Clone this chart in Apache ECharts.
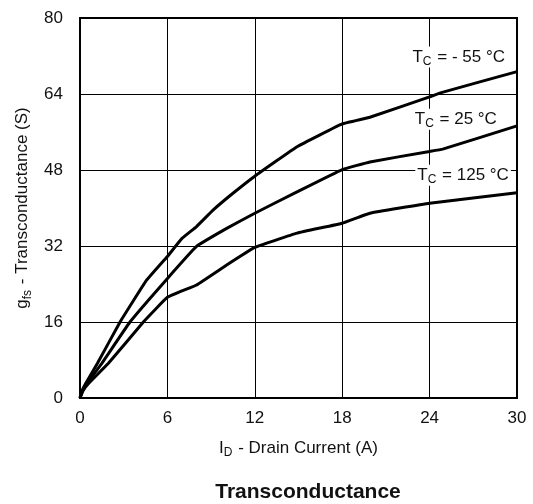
<!DOCTYPE html>
<html><head><meta charset="utf-8">
<script src="https://cdn.jsdelivr.net/npm/echarts@6/dist/echarts.min.js"></script>
<style>html,body{margin:0;padding:0;background:#fff}#c{width:533px;height:504px}</style>
</head><body><div id="c"></div>
<script>
const xTicks = [0, 6, 12, 18, 24, 30];
const yTicks = [0, 16, 32, 48, 64, 80];
const seriesNames = ['TC = - 55 °C', 'TC = 25 °C', 'TC = 125 °C'];
const curveM55 = [[0,0],[0.15,1.6],[0.4,3.1],[1.2,7.3],[2.75,16],[4.57,24.8],[6,29.8],[7,33.6],[8,36.1],[9.15,39.6],[10.5,43.1],[12,46.7],[14.9,52.9],[18,57.7],[19.9,59.1],[24,63.4],[24.8,64.3],[30,68.7]];
const curve25 = [[0,0],[0.17,1.5],[0.48,3.1],[1.5,7.3],[3.43,16],[5.9,24.8],[8,31.9],[10.07,35.7],[12,38.9],[14.9,43.4],[18,48.1],[19.9,49.7],[24,51.9],[24.9,52.4],[30,57.3]];
const curve125 = [[0,0],[0.2,1.5],[0.6,3.1],[1.95,7.3],[4.35,16],[6,21.2],[8,23.8],[10.07,28],[12,31.7],[14.9,34.7],[18,36.8],[19.9,38.9],[24,41],[30,43.2]];
const labelPos = [[26.0,71.8],[25.8,58.7],[26.3,46.9]];
const labelTemps = ['= - 55 °C', '= 25 °C', '= 125 °C'];

const font = 'Liberation Sans, Arial, Helvetica, sans-serif';
const chart = echarts.init(document.getElementById('c'), null, {renderer:'canvas'});
const curves = [curveM55, curve25, curve125];
function labelRich(){
  return {
    t:{fontFamily:font,fontSize:17,color:'#111'},
    s:{fontFamily:font,fontSize:12,color:'#111',verticalAlign:'bottom',padding:[9,1,0,0]}
  };
}
const series = curves.map((d,i)=>({
  name: seriesNames[i],
  type:'line',
  data:d,
  symbol:'none',
  smooth:0.08,
  lineStyle:{color:'#000',width:3},
  z:3,
  markPoint:{
    symbol:'rect', symbolSize:1,
    itemStyle:{color:'rgba(0,0,0,0)'},
    data:[{coord:labelPos[i]}],
    label:{
      show:true, position:'inside',
      formatter:'{t|T}{s|C}{t| '+labelTemps[i]+'}',
      rich:labelRich(),
      backgroundColor:'#fff', padding:[0,2,0,2]
    }
  }
}));
const nameRich = {n:{fontFamily:font,fontSize:17,color:'#111'},s:{fontFamily:font,fontSize:12,color:'#111',padding:[9,1,0,0]}};
chart.setOption({
  animation:false,
  backgroundColor:'#fff',
  title:{
    text:'Transconductance', left:303, top:477, textAlign:'center',
    textStyle:{fontFamily:font,fontSize:21,fontWeight:'bold',color:'#111'}
  },
  grid:{left:80,right:16,top:18,bottom:106,show:true,borderColor:'#000',borderWidth:2,backgroundColor:'transparent'},
  xAxis:{
    type:'value', min:0, max:30, interval:6,
    name:'{n|I}{s|D}{n| - Drain Current (A)}',
    nameLocation:'middle', nameGap:40,
    nameTextStyle:{rich:nameRich},
    axisLine:{show:true,lineStyle:{color:'#000',width:2}},
    axisTick:{show:false},
    axisLabel:{fontFamily:font,fontSize:17,color:'#111',margin:12,formatter:v=>xTicks.includes(v)?String(v):''},
    splitLine:{show:true,lineStyle:{color:'#000',width:1}}
  },
  yAxis:{
    type:'value', min:0, max:80, interval:16,
    name:'{n|g}{s|fs}{n| - Transconductance (S)}',
    nameLocation:'middle', nameGap:44,
    nameTextStyle:{rich:nameRich},
    axisLine:{show:true,lineStyle:{color:'#000',width:2}},
    axisTick:{show:false},
    axisLabel:{fontFamily:font,fontSize:17,color:'#111',margin:17,formatter:v=>yTicks.includes(v)?String(v):''},
    splitLine:{show:true,lineStyle:{color:'#000',width:1}}
  },
  series:series
});
</script></body></html>
